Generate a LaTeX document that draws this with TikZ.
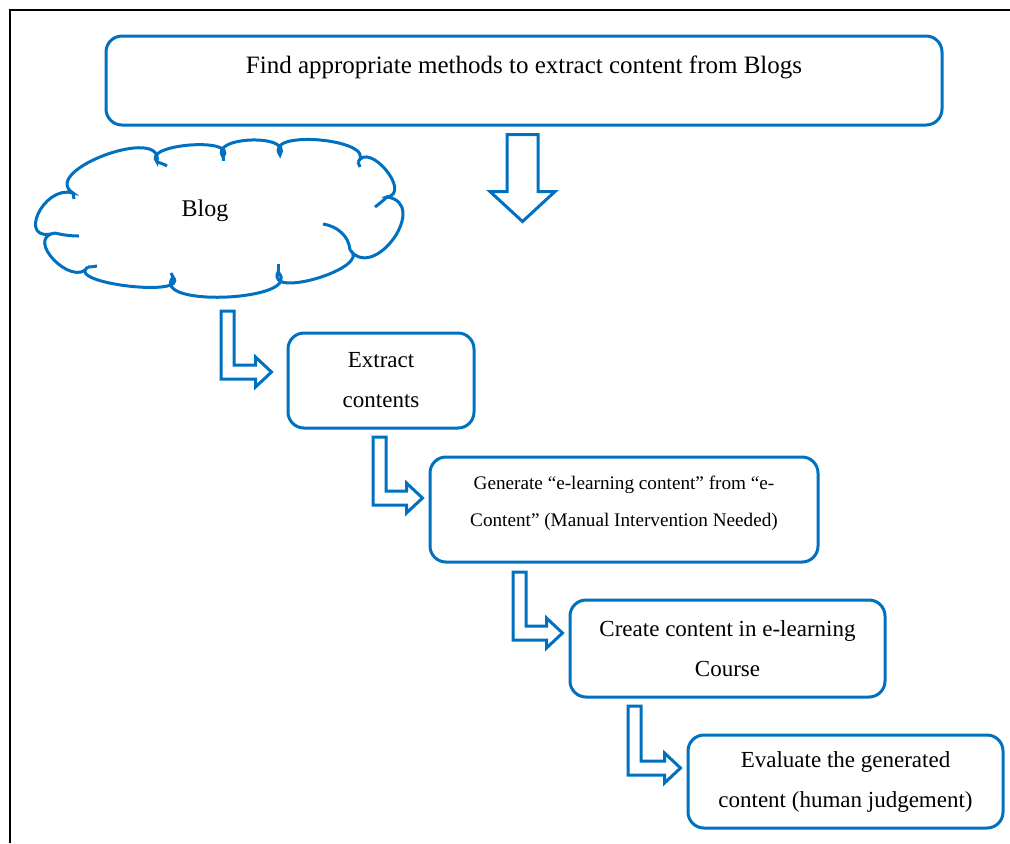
\documentclass[tikz,border=0pt]{standalone}
\usepackage{fontspec}
\setmainfont{Liberation Serif}
\usetikzlibrary{calc}
\definecolor{ablue}{RGB}{0,112,192}
% hollow elbow arrow: #1 = top-left corner of the shaft, #2 = arrow tip
\newcommand\elbowarrow[2]{%
  \draw[barrow] let \p1=(#1), \p2=(#2) in
    (\x1,\y1) -- (\x1+6.5pt,\y1) -- (\x1+6.5pt,\y2+3.5pt) -- (\x2-8pt,\y2+3.5pt)
    -- (\x2-8pt,\y2+7.5pt) -- (\x2,\y2) -- (\x2-8pt,\y2-7.5pt) -- (\x2-8pt,\y2-3.5pt)
    -- (\x1,\y2-3.5pt) -- cycle;}
\begin{document}
\begin{tikzpicture}[x=0.5pt,y=-0.5pt,
  box/.style={draw=ablue, line width=1.5pt, rounded corners=8pt, align=center, inner sep=0pt},
  barrow/.style={draw=ablue, line width=1.5pt, fill=white},
  cloudline/.style={draw=ablue, line width=1.5pt},
  bigtext/.style={font=\fontsize{12.5}{20}\selectfont},
  midtext/.style={font=\fontsize{11.5}{20}\selectfont},
  smalltext/.style={font=\fontsize{9.6}{18.5}\selectfont}]
\useasboundingbox (0,0) rectangle (1010,843);

% frame
\draw[line width=1pt] (9.5,843) -- (9.5,9.5) -- (1010,9.5);

% process boxes
\node[box, bigtext, minimum width=418pt, minimum height=44.5pt] (top) at (524,80.5)
  {Find appropriate methods to extract content from Blogs\\[-4pt]\mbox{}};
\node[box, midtext, minimum width=93pt, minimum height=47.5pt] (b2) at (381,380.5)
  {Extract\\contents};
\node[box, smalltext, minimum width=194pt, minimum height=52.5pt] (b3) at (624,509.5)
  {Generate “e-learning content” from “e-\\Content” (Manual Intervention Needed)\\[-10pt]\mbox{}};
\node[box, midtext, minimum width=157.5pt, minimum height=48.5pt] (b4) at (727.5,648.5)
  {Create content in e-learning\\Course};
\node[box, midtext, minimum width=157.5pt, minimum height=46.5pt] (b5) at (845.5,781.5)
  {Evaluate the generated\\content (human judgement)};

% downward block arrow under the top box
\coordinate (dn) at ($(top.south)+(-1.5,8)$);
\draw[barrow] (dn) ++(-15.5,0) -- ++(31,0) -- ++(0,57) -- ++(17,0) -- ++(-32.5,30)
  -- ++(-32.5,-30) -- ++(17,0) -- cycle;

% cloud outline, one puff per segment
\draw[cloudline] (73,193)
  .. controls (42.83,184.33) and (15.83,244.33) .. (55,233)
  .. controls (23.42,237.83) and (72.92,288.83) .. (88,267)
  .. controls (63.42,283.17) and (190.92,298.17) .. (173,277)
  .. controls (148.75,308.25) and (306.25,300.75) .. (278,272)
  .. controls (265.33,300.17) and (373.33,267.17) .. (350,250)
  .. controls (374.75,282.58) and (430.25,203.08) .. (387,197)
  .. controls (412.25,193.08) and (368.75,140.58) .. (358,162)
  .. controls (378.83,139.08) and (261.83,128.58) .. (280,155)
  .. controls (293.58,133.17) and (208.08,136.17) .. (223,157)
  .. controls (239.5,136.42) and (140.5,143.92) .. (157,162)
  .. controls (164.67,124.25) and (38.67,170.75) .. (73,193) -- cycle;
% short inner strokes of the cloud
\draw[cloudline] (55,233) .. controls (63,235) and (71,236) .. (79,236);
\draw[cloudline] (88,267) .. controls (91,267) and (94,266.5) .. (97,266);
\draw[cloudline] (278,272) .. controls (278,269) and (278,267) .. (278,264);
\draw[cloudline] (323,224) .. controls (337,226) and (349,236) .. (350,250);
\draw[cloudline] (375,207) .. controls (380,203) and (384,200) .. (388,196);
\draw[cloudline] (157,162) .. controls (160,163) and (164,164) .. (167,166);
\draw[cloudline] (73,193) -- (74,199);
\draw[cloudline] (173,277) -- (171,273);
\draw[cloudline] (223,157) -- (223,161);
\draw[cloudline] (358,162) -- (360,167);
\node[font=\fontsize{12}{14}\selectfont] (blog) at (205,211) {Blog};

% elbow arrows between the steps
\coordinate (s1) at (221,311);
\coordinate (s2) at (373,437);
\coordinate (s3) at (513,572);
\coordinate (s4) at (628,706);
\elbowarrow{s1}{$(b2.west)+(-15,-8.5)$}
\elbowarrow{s2}{$(b3.west)+(-6,-11.5)$}
\elbowarrow{s3}{$(b4.west)+(-6,-15.5)$}
\elbowarrow{s4}{$(b5.west)+(-6,-13.5)$}
\end{tikzpicture}
\end{document}
